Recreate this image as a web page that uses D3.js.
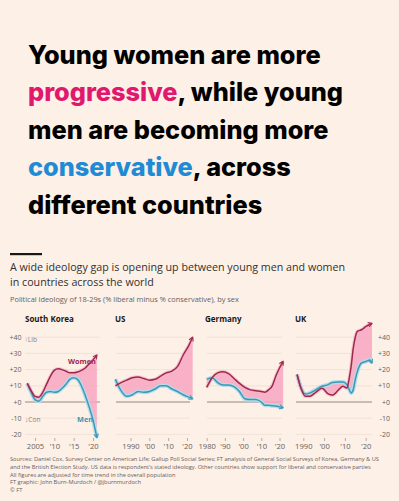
<!DOCTYPE html>
<html>
<head>
<meta charset="utf-8">
<script src="https://cdn.jsdelivr.net/npm/d3@7"></script>
<style>
  body { margin: 0; background: #fdf0e7; }
  svg { display: block; }
  .title { font-family: Inter, sans-serif; font-weight: 800; font-size: 25.3px; fill: #000; }
  .sub { font-family: "Open Sans", sans-serif; }
  .tick text { font-family: "Open Sans", sans-serif; font-size: 7.6px; fill: #66605c; }
</style>
</head>
<body>
<div id="chart"></div>
<script>
// values (% liberal minus % conservative, 18-29s)
const krYears = [2003, 2004, 2005, 2006, 2007, 2008, 2009, 2010, 2011, 2012, 2013, 2014, 2015, 2016, 2017, 2018, 2019, 2020, 2021];
const krWomen = [11.5, 7, 3.5, 3, 6, 11, 16, 19.5, 20.5, 20, 19, 18, 18, 18.5, 19.5, 21, 23.5, 26, 29];
const krMen   = [11.5, 6, 1.5, 0.5, 3.5, 6, 6.5, 6, 6.5, 8.5, 11, 14, 15, 14, 10, 4, -3, -11, -22];

const usYears = [1982, 1985, 1988, 1991, 1994, 1997, 2000, 2003, 2006, 2009, 2012, 2015, 2018, 2021, 2023];
const usWomen = [10, 12, 13.5, 15, 15.5, 14.5, 13.5, 14, 16, 18, 19, 22, 29, 35, 40];
const usMen   = [14, 7, 3.5, 4.5, 6.5, 6, 6.5, 8, 10, 10, 8, 6.5, 4.5, 3, 2];

const deYears = [1980, 1983, 1986, 1989, 1992, 1995, 1998, 2001, 2004, 2007, 2010, 2012, 2014, 2016, 2018, 2020, 2022];
const deWomen = [9, 15, 18, 18.7, 17.5, 14.5, 11.5, 9, 7.5, 7, 6.5, 6, 7.5, 10, 16, 21, 25];
const deMen   = [14, 15, 12, 10.5, 10.5, 9.5, 6.5, 2, 1.5, 1.5, 0, -2, -2, -2.3, -2.5, -3, -3.5];

const ukYears = [1987, 1989, 1991, 1993, 1996, 1999, 2002, 2004, 2007, 2009, 2011, 2012, 2013, 2014, 2015, 2016, 2018, 2020, 2022, 2023];
const ukWomen = [17, 8, 3.5, 3.5, 6, 8.5, 5, 4.3, 7.6, 9.7, 8.6, 14, 22, 33, 40, 43.6, 44.6, 46.5, 48, 48.5];
const ukMen   = [17, 8.6, 4.9, 5.5, 7.5, 9.7, 10.7, 12, 12.3, 12.3, 10.7, 8, 5.6, 7.6, 14, 18.9, 24.1, 25, 26, 24];

const yTicks = [40, 30, 20, 10, 0, -10, -20];
const krTicks = [2005, 2010, 2015, 2020];
const usTicks = [1990, 2000, 2010, 2020];
const deTicks = [1980, 1990, 2000, 2010, 2020];
const ukTicks = [1990, 2000, 2010, 2020];

const W = 399, H = 501;
const bg = '#fdf0e7';
const womenCol = '#a0284c', menCol = '#3f97b8';

const svg = d3.select('#chart').append('svg').attr('width', W).attr('height', H);
svg.append('rect').attr('width', W).attr('height', H).attr('fill', bg);

// headline
const titleLines = [
  [['Young women are more', '#000']],
  [['progressive', '#e0186e'], [', while young', '#000']],
  [['men are becoming more', '#000']],
  [['conservative', '#1f8bd4'], [', across', '#000']],
  [['different countries', '#000']]
];
const titleY = [63.5, 101, 138.5, 176, 213.5];
titleLines.forEach(function (parts, i) {
  const t = svg.append('text').attr('class', 'title').attr('x', 28).attr('y', titleY[i]);
  parts.forEach(function (p) { t.append('tspan').attr('fill', p[1]).text(p[0]); });
});

svg.append('rect').attr('x', 10).attr('y', 253).attr('width', 32).attr('height', 2.2).attr('fill', '#1a1817');

svg.append('text').attr('class', 'sub').attr('x', 10).attr('y', 270.5)
  .attr('font-size', 10.7).attr('fill', '#33302e')
  .text('A wide ideology gap is opening up between young men and women');
svg.append('text').attr('class', 'sub').attr('x', 10).attr('y', 286)
  .attr('font-size', 10.7).attr('fill', '#33302e')
  .text('in countries across the world');
svg.append('text').attr('class', 'sub').attr('x', 10).attr('y', 302.3)
  .attr('font-size', 7.4).attr('fill', '#66605c')
  .text('Political ideology of 18-29s (% liberal minus % conservative), by sex');

// shared y scale
const y = d3.scaleLinear().domain([-20, 40]).range([434.4, 337.2]);

// arrow markers
const defs = svg.append('defs');
[['arrW', womenCol], ['arrM', menCol]].forEach(function (m) {
  defs.append('marker').attr('id', m[0])
    .attr('viewBox', '0 0 8 8').attr('refX', 6).attr('refY', 4)
    .attr('markerWidth', 6).attr('markerHeight', 6)
    .attr('markerUnits', 'userSpaceOnUse').attr('orient', 'auto')
    .append('path').attr('d', 'M1,1 L6,4 L1,7')
    .attr('fill', 'none').attr('stroke', m[1]).attr('stroke-width', 1.4);
});

const panels = [
  { name: 'South Korea', years: krYears, women: krWomen, men: krMen, ticks: krTicks,
    t0: 2005, t1: 2020, x0: 35, x1: 93, g0: 25, g1: 100, tx: 25,
    fmt: function (d) { return d === 2005 ? '2005' : "'" + String(d).slice(2); } },
  { name: 'US', years: usYears, women: usWomen, men: usMen, ticks: usTicks,
    t0: 1990, t1: 2020, x0: 130.5, x1: 187, g0: 116, g1: 190, tx: 115,
    fmt: function (d) { return d === 1990 ? '1990' : "'" + String(d).slice(2); } },
  { name: 'Germany', years: deYears, women: deWomen, men: deMen, ticks: deTicks,
    t0: 1980, t1: 2020, x0: 206.7, x1: 279.5, g0: 207, g1: 282, tx: 205,
    fmt: function (d) { return d === 1980 ? '1980' : "'" + String(d).slice(2); } },
  { name: 'UK', years: ukYears, women: ukWomen, men: ukMen, ticks: ukTicks,
    t0: 1990, t1: 2020, x0: 303.3, x1: 365.7, g0: 296, g1: 372, tx: 295,
    fmt: function (d) { return d === 1990 ? '1990' : "'" + String(d).slice(2); } }
];

panels.forEach(function (p) {
  const x = d3.scaleLinear().domain([p.t0, p.t1]).range([p.x0, p.x1]);
  const g = svg.append('g');

  g.append('text').attr('x', p.tx).attr('y', 322)
    .attr('font-family', '"Open Sans", sans-serif').attr('font-weight', 700)
    .attr('font-size', 8).attr('fill', '#1a1817').text(p.name);

  g.selectAll('line.grid').data(yTicks).join('line')
    .attr('class', 'grid')
    .attr('x1', p.g0).attr('x2', p.g1)
    .attr('y1', function (d) { return y(d); }).attr('y2', function (d) { return y(d); })
    .attr('stroke', function (d) { return d === 0 ? '#8f8a86' : '#f0ddd2'; })
    .attr('stroke-width', function (d) { return d === 0 ? 1 : 0.8; });

  const xAxis = d3.axisBottom(x).tickValues(p.ticks).tickFormat(p.fmt).tickSize(3).tickPadding(3);
  const ax = g.append('g').attr('transform', 'translate(0,438)').call(xAxis);
  ax.select('.domain').remove();
  ax.selectAll('.tick line').attr('stroke', '#b5aca6');

  const pts = p.years.map(function (yr, i) { return { yr: yr, w: p.women[i], m: p.men[i] }; });

  const area = d3.area()
    .x(function (d) { return x(d.yr); })
    .y0(function (d) { return y(d.m); })
    .y1(function (d) { return y(d.w); })
    .curve(d3.curveMonotoneX);
  g.append('path').datum(pts).attr('d', area).attr('fill', '#f7a6bf').attr('opacity', 0.85);

  const lineW = d3.line().x(function (d) { return x(d.yr); }).y(function (d) { return y(d.w); }).curve(d3.curveMonotoneX);
  const lineM = d3.line().x(function (d) { return x(d.yr); }).y(function (d) { return y(d.m); }).curve(d3.curveMonotoneX);

  g.append('path').datum(pts).attr('d', lineM).attr('fill', 'none')
    .attr('stroke', '#b3dde9').attr('stroke-width', 4).attr('stroke-linejoin', 'round');
  g.append('path').datum(pts).attr('d', lineW).attr('fill', 'none')
    .attr('stroke', '#f2b9c9').attr('stroke-width', 3.5).attr('stroke-linejoin', 'round').attr('opacity', 0.8);
  g.append('path').datum(pts).attr('d', lineM).attr('fill', 'none')
    .attr('stroke', menCol).attr('stroke-width', 1.5).attr('marker-end', 'url(#arrM)');
  g.append('path').datum(pts).attr('d', lineW).attr('fill', 'none')
    .attr('stroke', womenCol).attr('stroke-width', 1.5).attr('marker-end', 'url(#arrW)');
});

// y axis labels: left of South Korea, right of UK (both right-aligned)
function yLabel(d) { return d > 0 ? '+' + d : (d === 0 ? '+0' : String(d)); }
[21.5, 390].forEach(function (lx) {
  svg.append('g').selectAll('text').data(yTicks).join('text')
    .attr('x', lx).attr('y', function (d) { return y(d) + 2.5; })
    .attr('text-anchor', 'end')
    .attr('font-family', '"Open Sans", sans-serif').attr('font-size', 7).attr('fill', '#66605c')
    .text(yLabel);
});

svg.append('text').attr('x', 24.5).attr('y', 342).attr('font-family', '"Open Sans", sans-serif')
  .attr('font-size', 6.6).attr('fill', '#8a8380').text('\u2191Lib');
svg.append('text').attr('x', 25).attr('y', 422).attr('font-family', '"Open Sans", sans-serif')
  .attr('font-size', 6.6).attr('fill', '#8a8380').text('\u2193Con');
svg.append('text').attr('x', 68).attr('y', 363.5).attr('font-family', '"Open Sans", sans-serif')
  .attr('font-weight', 700).attr('font-size', 7.3).attr('fill', womenCol).text('Women');
svg.append('text').attr('x', 77).attr('y', 421.5).attr('font-family', '"Open Sans", sans-serif')
  .attr('font-weight', 700).attr('font-size', 7.3).attr('fill', menCol).text('Men');

// footnotes
const notes = [
  'Sources: Daniel Cox, Survey Center on American Life; Gallup Poll Social Series; FT analysis of General Social Surveys of Korea, Germany & US',
  'and the British Election Study. US data is respondent\u2019s stated ideology. Other countries show support for liberal and conservative parties',
  'All figures are adjusted for time trend in the overall population',
  'FT graphic: John Burn-Murdoch / @jburnmurdoch',
  '\u00a9 FT'
];
svg.append('g').selectAll('text').data(notes).join('text')
  .attr('x', 10).attr('y', function (d, i) { return 461 + i * 7.8; })
  .attr('font-family', '"Open Sans", sans-serif').attr('font-size', 5.7).attr('fill', '#66605c')
  .text(function (d) { return d; });
</script>
</body>
</html>
